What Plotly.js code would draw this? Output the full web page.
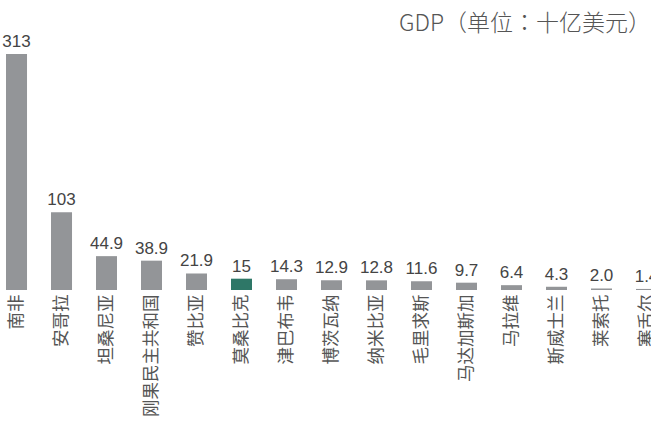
<!DOCTYPE html>
<html>
<head>
<meta charset="utf-8">
<script src="https://cdn.plot.ly/plotly-3.0.1.min.js"></script>
<style>html,body{margin:0;padding:0;background:#fff;}#chart{width:651px;height:429px;}</style>
</head>
<body>
<div id="chart"></div>
<script>
const countries = ["南非","安哥拉","坦桑尼亚","刚果民主共和国","赞比亚","莫桑比克","津巴布韦","博茨瓦纳","纳米比亚","毛里求斯","马达加斯加","马拉维","斯威士兰","莱索托","塞舌尔"];
const gdp = [313, 103, 44.9, 38.9, 21.9, 15, 14.3, 12.9, 12.8, 11.6, 9.7, 6.4, 4.3, 2.0, 1.4];
const valueLabels = ["313","103","44.9","38.9","21.9","15","14.3","12.9","12.8","11.6","9.7","6.4","4.3","2.0","1.4"];
const highlight = "莫桑比克";

const colors = countries.map(c => c === highlight ? "#2e7767" : "#939598");

const trace = {
  type: "bar",
  x: countries,
  y: gdp,
  text: valueLabels,
  textposition: "outside",
  constraintext: "none",
  cliponaxis: false,
  textfont: {family: "Liberation Sans, Arial, sans-serif", size: 17, color: "#444"},
  marker: {color: colors},
  width: 0.467,
  hoverinfo: "none"
};

const layout = {
  width: 651, height: 429,
  margin: {l: 0, r: 0, t: 0, b: 139, pad: 0},
  paper_bgcolor: "#fff", plot_bgcolor: "#fff",
  showlegend: false,
  title: {
    text: "GDP（单位：十亿美元）",
    font: {family: "Noto Sans CJK TC", size: 23, color: "#555", weight: 300},
    xref: "paper", x: 1, xanchor: "right",
    yref: "container", y: 1 - 23/429, yanchor: "middle"
  },
  xaxis: {
    range: [-0.367, 14.1],
    tickangle: -90,
    tickfont: {family: "Noto Sans CJK SC", size: 17.5, color: "#555"},
    showline: false, showgrid: false, zeroline: false, ticks: "",
    ticklen: 0, automargin: false
  },
  yaxis: {
    range: [0, 384.6],
    visible: false, showgrid: false, zeroline: false
  },
  bargap: 0.5
};

Plotly.newPlot("chart", [trace], layout, {displayModeBar: false, staticPlot: true});
</script>
</body>
</html>
